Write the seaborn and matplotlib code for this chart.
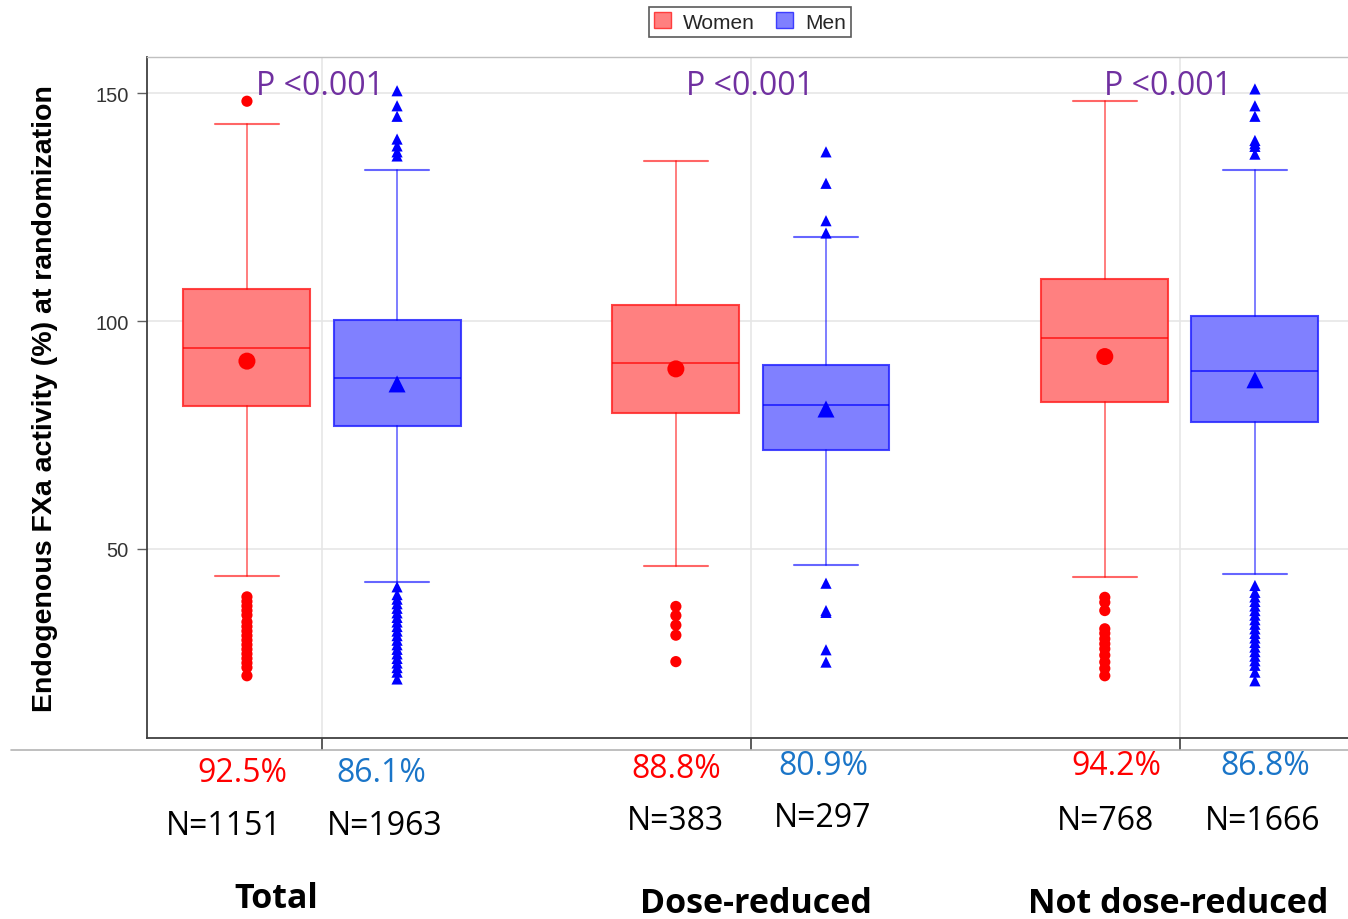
import numpy as np
import pandas as pd
import matplotlib
matplotlib.use("Agg")
import matplotlib.pyplot as plt
import seaborn as sns
from matplotlib.lines import Line2D
from matplotlib.patches import Patch
from matplotlib.transforms import blended_transform_factory

# ---------------- data ----------------
groups = ["Total", "Dose-reduced", "Not dose-reduced"]
sexes = ["Women", "Men"]
# order: (Total W, Total M, Dose W, Dose M, NotDose W, NotDose M)
q1 = [81.4, 77.0, 79.8, 71.7, 82.2, 77.9]
median = [94.1, 87.5, 90.9, 81.5, 96.2, 89.0]
q3 = [107.0, 100.2, 103.6, 90.4, 109.3, 101.1]
whisk_lo = [44.1, 42.8, 46.2, 46.5, 43.9, 44.6]
whisk_hi = [143.2, 133.1, 135.0, 118.4, 148.2, 133.1]
means = [91.2, 86.2, 89.5, 80.7, 92.2, 87.1]
outliers = [
    [148.2, 39.5, 38.5, 37.5, 36.5, 35.5, 34.0, 33.0, 32.0, 31.0, 30.0, 29.0,
     28.0, 27.0, 26.0, 25.0, 24.0, 22.2],
    [150.5, 147.2, 144.9, 139.9, 138.4, 137.1, 136.2, 41.7, 40.0, 39.0, 38.0,
     37.0, 36.0, 35.0, 34.0, 33.0, 32.0, 31.0, 30.0, 29.0, 28.0, 27.0, 26.0,
     25.0, 24.0, 23.0, 21.5],
    [37.4, 35.4, 33.3, 31.1, 25.3],
    [137.1, 130.2, 122.0, 119.3, 42.5, 36.5, 36.1, 27.9, 25.2],
    [39.4, 38.3, 36.5, 32.5, 31.5, 30.3, 29.2, 28.1, 26.7, 25.2, 23.8, 22.2],
    [150.9, 147.2, 144.9, 139.6, 138.9, 138.3, 136.6, 42.0, 40.5, 39.5, 38.5,
     37.5, 36.5, 35.5, 34.5, 33.5, 32.5, 31.5, 30.5, 29.5, 28.5, 27.5, 26.5,
     25.5, 24.5, 23.0, 21.1],
]
pct_labels = ["92.5%", "86.1%", "88.8%", "80.9%", "94.2%", "86.8%"]
n_labels = ["N=1151", "N=1963", "N=383", "N=297", "N=768", "N=1666"]
p_labels = ["P <0.001", "P <0.001", "P <0.001"]
yticks = [50, 100, 150]
ylabel = "Endogenous FXa activity (%) at randomization"

# ---------------- style ----------------
sns.set_theme(style="whitegrid")
plt.rcParams["font.family"] = ["Liberation Sans", "DejaVu Sans"]

fill = {"Women": (1.0, 0.5, 0.5, 1.0), "Men": (0.5, 0.5, 1.0, 1.0)}
edge = {"Women": "#FF0000", "Men": "#0000FF"}
edge_soft = {"Women": (1.0, 0.15, 0.15, 0.85), "Men": (0.15, 0.15, 1.0, 0.85)}
pct_col = {"Women": "#FF0000", "Men": "#1A75C8"}
mean_marker = {"Women": "o", "Men": "^"}

offset = 0.175
box_w = 0.296

fig = plt.figure(figsize=(13.48, 9.2), dpi=100)
ax = fig.add_axes([147 / 1348, 1 - 739 / 920, 1 - 147 / 1348, (739 - 58) / 920])

rows_mean, rows_out = [], []
for gi, g in enumerate(groups):
    for si, s in enumerate(sexes):
        k = gi * 2 + si
        pos = gi + (-offset if si == 0 else offset)
        stats = [dict(med=median[k], q1=q1[k], q3=q3[k], whislo=whisk_lo[k],
                      whishi=whisk_hi[k], fliers=[])]
        ax.bxp(stats, positions=[pos], widths=box_w, showfliers=False,
               patch_artist=True, manage_ticks=False,
               boxprops=dict(facecolor=fill[s], edgecolor=edge_soft[s], linewidth=1.5),
               medianprops=dict(color=edge[s], linewidth=1.3, alpha=0.7),
               whiskerprops=dict(color=edge[s], linewidth=1.3, alpha=0.55),
               capprops=dict(color=edge[s], linewidth=1.5, alpha=0.6),
               capwidths=0.15)
        rows_mean.append(dict(x=pos, y=means[k], sex=s))
        for v in outliers[k]:
            rows_out.append(dict(x=pos, y=v, sex=s))

df_mean = pd.DataFrame(rows_mean)
df_out = pd.DataFrame(rows_out)
sns.scatterplot(data=df_out, x="x", y="y", hue="sex", style="sex",
                palette=edge, markers=mean_marker, s=65, linewidth=0,
                legend=False, ax=ax, zorder=4)
sns.scatterplot(data=df_mean, x="x", y="y", hue="sex", style="sex",
                palette=edge, markers=mean_marker, s=150, linewidth=0,
                legend=False, ax=ax, zorder=5)

ax.set_xlim(-0.408, 2.392)
ax.set_ylim(8.55, 157.9)
ax.set_xticks([0, 1, 2])
ax.set_xticklabels([])
ax.set_yticks(yticks)
ax.set_yticklabels([str(t) for t in yticks], fontsize=14.5, color="#333333")
ax.set_xlabel("")
ax.set_ylabel("")
ax.grid(True, color="#e6e6e6", linewidth=1.2)
ax.tick_params(axis="x", direction="out", length=8.5, width=1.2, color="#404040", bottom=True)
ax.tick_params(axis="y", direction="out", length=7, width=1.0, color="#606060", left=True, pad=6)
for sp in ["left", "bottom"]:
    ax.spines[sp].set_color("#404040")
    ax.spines[sp].set_linewidth(1.3)
ax.spines["top"].set_color("#c0c0c0")
ax.spines["top"].set_linewidth(1.0)
ax.spines["right"].set_visible(False)
ax.set_facecolor("white")

# P-value texts
p_x = [-0.005, 0.998, 1.972]
for gi, t in enumerate(p_labels):
    ax.text(p_x[gi], 151.7, t, ha="center", va="center", fontsize=23,
            color="#7030A0", family=["Open Sans", "DejaVu Sans"], zorder=6)

# labels under the axis (x in data, y in figure fraction)
tr = blended_transform_factory(ax.transData, fig.transFigure)
pct_x = [-0.186, 0.138, 0.825, 1.170, 1.851, 2.200]
pct_y = [774, 774, 770, 767, 767, 767]
n_x = [-0.228, 0.147, 0.825, 1.166, 1.827, 2.193]
n_y = [827, 827, 822, 819, 822, 822]
grp_x = [-0.107, 1.012, 1.995]
grp_y = [899, 904, 904]
for k in range(6):
    s = sexes[k % 2]
    ax.text(pct_x[k], 1 - pct_y[k] / 920, pct_labels[k], transform=tr, ha="center",
            va="center", fontsize=23, color=pct_col[s], family=["Open Sans", "DejaVu Sans"])
    ax.text(n_x[k], 1 - n_y[k] / 920, n_labels[k], transform=tr, ha="center",
            va="center", fontsize=23, color="black", family=["Open Sans", "DejaVu Sans"])
for gi, g in enumerate(groups):
    ax.text(grp_x[gi], 1 - grp_y[gi] / 920, g, transform=tr, ha="center", va="center",
            fontsize=24.5, fontweight="bold", color="black", family=["Open Sans", "DejaVu Sans"])

# horizontal separator line below the axis
fig.add_artist(Line2D([11 / 1348, 1.0], [1 - 751 / 920] * 2, color="#b4b4b4", linewidth=1.2))

# y label
fig.text(45 / 1348, 1 - 399 / 920, ylabel, rotation=90, ha="center", va="center",
         fontsize=20.5, fontweight="bold", color="black")

# legend
handles = [Patch(facecolor=fill[s], edgecolor=edge_soft[s], label=s) for s in sexes]
leg = fig.legend(handles=handles, loc="center", bbox_to_anchor=(750 / 1348, 1 - 23 / 920),
                 ncol=2, frameon=True, fontsize=15, borderpad=0.25, handlelength=0.8,
                 handleheight=0.8, handletextpad=0.6, columnspacing=1.0, fancybox=False,
                 borderaxespad=0)
leg.get_frame().set_edgecolor("#303030")
leg.get_frame().set_linewidth(1.2)

fig.savefig("out.png", dpi=100, facecolor="white")
